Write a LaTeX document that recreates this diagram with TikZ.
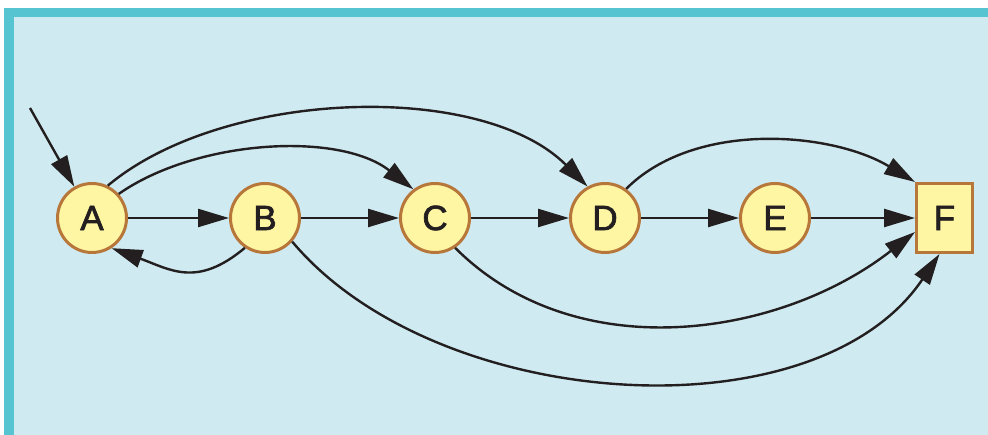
\documentclass[tikz,border=0pt]{standalone}
\usepackage{fontspec}
\setmainfont{Liberation Sans}
\newfontfamily\statefont[FakeBold=2]{Liberation Sans}
\usetikzlibrary{arrows.meta}
\definecolor{panel}{HTML}{CFEBF1}
\definecolor{frame}{HTML}{56C5D1}
\definecolor{statefill}{HTML}{FFF6A3}
\definecolor{stateedge}{HTML}{B8773A}
\definecolor{ink}{HTML}{231F20}
\tikzset{
  state/.style={circle, draw=stateedge, fill=statefill, line width=3pt,
    minimum size=69pt, inner sep=0pt, text=ink,
    font=\statefont\fontsize{35}{35}\selectfont},
  final/.style={rectangle, draw=stateedge, fill=statefill, line width=3pt,
    minimum width=56pt, minimum height=69pt, inner sep=0pt, text=ink,
    font=\statefont\fontsize{35}{35}\selectfont},
  trans/.style={draw=ink, line width=2.4pt,
    -{Triangle[length=31pt,width=18pt]}},
}
\begin{document}
\begin{tikzpicture}[x=1pt,y=-1pt]
  \useasboundingbox (0,0) rectangle (988,435);
  % panel with its frame on top and left
  \fill[white] (0,0) rectangle (988,435);
  \fill[panel] (4,8) rectangle (988,435);
  \fill[frame] (4,8) rectangle (988,17);
  \fill[frame] (4,8) rectangle (14,435);

  % states
  \node[state] (A) at (92,218) {A};
  \node[state] (B) at (265,218) {B};
  \node[state] (C) at (435,218) {C};
  \node[state] (D) at (605,218) {D};
  \node[state] (E) at (775,218) {E};
  \node[final] (F) at (944.5,218) {F};
  \coordinate (start) at (30,108);

  % transitions
  \draw[trans] (start) -- (A);
  \draw[trans] (A) -- (B);
  \draw[trans] (B) -- (C);
  \draw[trans] (C) -- (D);
  \draw[trans] (D) -- (E);
  \draw[trans] (E) -- (F);
  \draw[trans] (B.-124) to[out=-140, in=-20, looseness=1.2] (A.-57);
  \draw[trans] (A.42) to[out=35, in=142, looseness=0.82] (C.127);
  \draw[trans] (A.64) to[out=40, in=135, looseness=0.8] (D.119);
  \draw[trans] (D.54) to[out=45, in=149, looseness=0.86] (F.north west);
  \draw[trans] (C.-56) to[out=-45, in=-142, looseness=0.95] ([yshift=-14pt]F.west);
  \draw[trans] (B.-41) to[out=-50, in=-124, looseness=0.88] ([xshift=-5pt]F.south);
\end{tikzpicture}
\end{document}
